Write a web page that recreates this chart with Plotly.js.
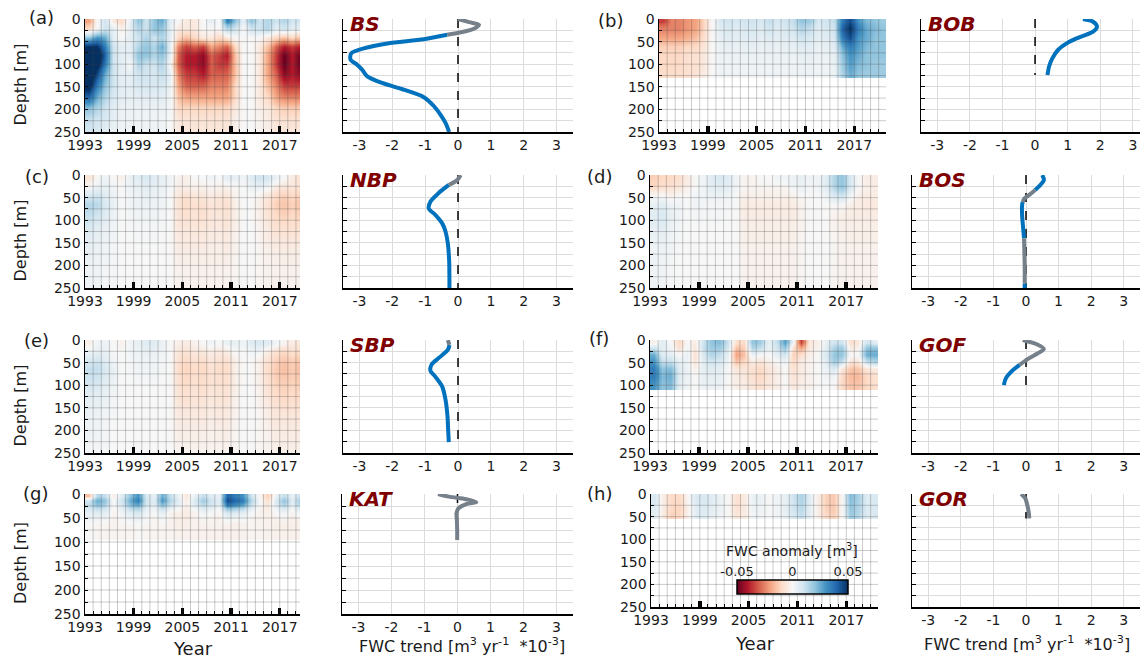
<!DOCTYPE html>
<html><head><meta charset="utf-8">
<script src="https://cdn.plot.ly/plotly-3.0.1.min.js"></script>
<style>html,body{margin:0;padding:0;background:#fff}#chart{width:1140px;height:658px}</style>
</head><body><div id="chart"></div>
<script>
// ---------------- DATA ----------------
const yearEdges = [1993,1994,1995,1996,1997,1998,1999,2000,2001,2002,2003,2004,2005,2006,2007,2008,2009,2010,2011,2012,2013,2014,2015,2016,2017,2018,2019,2020,2021];
const yearTicks = [1993,1999,2005,2011,2017];
const depthTicks = [0,50,100,150,200,250];
const trendTicks = [-3,-2,-1,0,1,2,3];
const trendTickText = ['-3','-2','-1','0','1','2','3'];
const cbTicks = [-0.05,0,0.05];
const cbTickText = ['-0.05','0','0.05'];
const regionNames = ['BS','BOB','NBP','BOS','SBP','GOF','KAT','GOR'];
const panelLetters = ['(a)','(b)','(c)','(d)','(e)','(f)','(g)','(h)'];

// FWC anomaly [m3], rows = depth bins (edges below), columns = years 1993..2020
const bsEdges = [0,10,30,50,70,90,110,135,160,185,210,230,250];
const bsZ = [
 [-.02,0,.01,-.005,-.01,.005,.02,.01,.02,.025,.005,0,-.005,-.005,0,.005,0,.035,.02,.005,.02,.01,.015,.01,.015,.01,.01,.01],
 [-.01,0,.01,.005,-.003,.005,.015,.01,.02,.02,.005,-.005,-.005,-.005,0,0,0,.015,.01,0,.01,.01,.015,.005,.01,.005,.005,.005],
 [.02,.03,.025,.005,0,.005,.01,.015,.01,.015,.005,-.01,-.015,-.01,-.005,-.005,-.01,-.005,0,0,0,0,-.005,-.01,-.015,-.01,-.015,-.015],
 [.05,.05,.035,.01,.005,.005,.015,.02,.015,.025,.005,-.025,-.035,-.03,-.035,-.02,-.025,-.03,-.01,0,0,-.005,-.015,-.03,-.04,-.035,-.04,-.04],
 [.06,.06,.04,.01,.005,.005,.02,.02,.015,.02,.005,-.03,-.04,-.04,-.045,-.03,-.035,-.04,-.015,0,0,-.005,-.02,-.035,-.05,-.04,-.05,-.05],
 [.06,.055,.035,.01,.005,0,.015,.01,.01,.015,0,-.03,-.04,-.04,-.045,-.03,-.035,-.035,-.015,0,0,-.005,-.02,-.035,-.05,-.04,-.05,-.05],
 [.06,.045,.025,.01,.005,.005,.01,.01,.008,.012,.005,-.025,-.035,-.035,-.04,-.03,-.03,-.03,-.015,0,0,-.005,-.02,-.03,-.045,-.04,-.045,-.045],
 [.055,.035,.02,.01,.005,.005,.008,.008,.008,.008,.003,-.02,-.03,-.03,-.03,-.025,-.025,-.025,-.01,0,0,-.005,-.015,-.025,-.035,-.035,-.035,-.035],
 [.04,.025,.015,.008,.005,.004,.005,.005,.005,.005,.002,-.015,-.02,-.02,-.02,-.02,-.02,-.02,-.01,0,0,-.005,-.01,-.02,-.025,-.025,-.025,-.025],
 [.02,.015,.01,.005,.003,.003,.003,.003,.003,.003,.001,-.01,-.01,-.01,-.01,-.01,-.01,-.01,-.005,0,0,-.003,-.005,-.01,-.012,-.012,-.012,-.012],
 [.012,.01,.008,.005,.003,.002,.002,.002,.002,.002,0,-.006,-.007,-.007,-.007,-.007,-.007,-.007,-.003,0,0,-.002,-.004,-.007,-.008,-.008,-.008,-.008],
 [.01,.008,.006,.004,.002,.002,.002,.002,.002,.002,0,-.005,-.006,-.006,-.006,-.006,-.006,-.006,-.003,0,0,-.002,-.003,-.006,-.006,-.006,-.006,-.006]
];
const bobEdges = [0,10,30,50,70,90,110,130];
const bobZ = [
 [-.035,-.025,-.025,-.022,-.02,-.01,0,.008,.01,.008,.01,.01,.008,.012,.008,.01,.012,.02,.018,.008,.01,.012,.035,.045,.03,.022,.02,.018],
 [-.025,-.025,-.025,-.022,-.02,-.01,0,.006,.008,.006,.008,.008,.006,.01,.006,.008,.01,.015,.012,.006,.008,.01,.04,.05,.035,.025,.022,.02],
 [-.02,-.02,-.02,-.018,-.015,-.008,0,.004,.006,.005,.006,.006,.005,.006,.005,.006,.006,.01,.008,.005,.006,.008,.035,.045,.03,.025,.02,.02],
 [-.012,-.012,-.012,-.01,-.01,-.006,0,.003,.004,.003,.004,.004,.003,.004,.003,.004,.004,.006,.005,.003,.004,.006,.025,.035,.028,.022,.02,.02],
 [-.01,-.01,-.01,-.008,-.008,-.005,0,.003,.003,.003,.003,.003,.003,.003,.003,.003,.003,.004,.004,.003,.003,.004,.02,.03,.025,.02,.02,.02],
 [-.01,-.01,-.01,-.008,-.008,-.005,0,.002,.002,.002,.002,.002,.002,.002,.002,.002,.002,.003,.003,.002,.002,.003,.018,.028,.022,.02,.018,.018],
 [-.009,-.009,-.009,-.008,-.007,-.004,0,.002,.002,.002,.002,.002,.002,.002,.002,.002,.002,.003,.003,.002,.002,.003,.016,.025,.02,.018,.018,.018]
];
const nbpEdges = [0,15,35,55,75,100,125,150,175,200,225,250];
const nbpZ = [
 [-.006,0,.003,0,-.003,.004,.006,.008,.006,.004,.002,-.002,-.003,0,0,.002,0,.005,.004,.002,.006,.01,.008,.003,0,-.004,-.008,-.008],
 [0,.003,.004,.002,0,.003,.004,.005,.004,.003,.001,-.003,-.003,-.002,-.002,-.001,-.002,-.002,0,0,.003,.004,.002,-.004,-.006,-.006,-.007,-.007],
 [.008,.01,.006,.003,0,.002,.003,.004,.003,.002,0,-.006,-.008,-.006,-.006,-.004,-.006,-.006,-.002,0,0,-.002,-.006,-.01,-.012,-.01,-.012,-.012],
 [.015,.014,.008,.004,0,.002,.003,.003,.003,.002,0,-.007,-.009,-.008,-.008,-.006,-.007,-.008,-.003,0,0,-.003,-.008,-.012,-.014,-.012,-.014,-.014],
 [.012,.01,.006,.003,0,.001,.002,.002,.002,.001,0,-.007,-.008,-.007,-.008,-.006,-.006,-.007,-.003,0,0,-.003,-.007,-.01,-.012,-.01,-.012,-.012],
 [.008,.006,.004,.002,0,.001,.001,.001,.001,.001,0,-.006,-.006,-.006,-.006,-.005,-.005,-.006,-.003,0,0,-.002,-.005,-.008,-.008,-.008,-.008,-.008],
 [.005,.004,.003,.002,0,0,.001,.001,.001,0,0,-.005,-.005,-.005,-.005,-.004,-.004,-.005,-.002,0,0,-.002,-.004,-.006,-.006,-.006,-.006,-.006],
 [.004,.003,.002,.001,0,0,0,0,0,0,0,-.004,-.004,-.004,-.004,-.003,-.003,-.004,-.002,0,0,-.001,-.003,-.004,-.004,-.004,-.004,-.004],
 [.003,.002,.002,.001,0,0,0,0,0,0,0,-.003,-.003,-.003,-.003,-.003,-.003,-.003,-.001,0,0,-.001,-.002,-.003,-.003,-.003,-.003,-.003],
 [.002,.002,.001,.001,0,0,0,0,0,0,0,-.002,-.002,-.002,-.002,-.002,-.002,-.002,-.001,0,0,-.001,-.002,-.002,-.002,-.002,-.002,-.002],
 [.002,.002,.001,.001,0,0,0,0,0,0,0,-.002,-.002,-.002,-.002,-.002,-.002,-.002,-.001,0,0,-.001,-.002,-.002,-.002,-.002,-.002,-.002]
];
const bosEdges = [0,15,35,55,75,100,125,150,175,200,225,250];
const bosZ = [
 [-.012,-.01,-.01,-.008,-.004,0,.002,.006,.008,.006,.002,-.002,-.002,0,0,.002,.002,.003,.004,.002,.002,.006,.015,.02,.008,0,-.004,-.004],
 [-.01,-.008,-.008,-.006,-.003,0,.002,.005,.006,.005,.002,-.001,-.001,-.001,-.001,-.001,-.001,.002,.003,.001,.002,.006,.015,.02,.008,0,-.003,-.003],
 [0,0,-.002,0,0,.002,.002,.003,.003,.002,0,-.003,-.003,-.002,-.003,-.002,-.003,-.002,0,0,0,.002,.008,.01,.002,-.003,-.004,-.004],
 [.004,.006,.003,.002,0,.002,.001,.001,.001,.001,0,-.004,-.004,-.004,-.004,-.004,-.004,-.004,-.002,0,0,0,0,0,-.003,-.004,-.005,-.005],
 [.006,.008,.004,.002,0,.001,.001,.001,.001,0,0,-.004,-.004,-.004,-.004,-.004,-.004,-.004,-.002,0,0,0,-.002,-.003,-.004,-.004,-.004,-.004],
 [.005,.006,.003,.001,0,0,0,0,0,0,0,-.003,-.003,-.003,-.003,-.003,-.003,-.003,-.002,0,0,0,-.002,-.003,-.003,-.003,-.003,-.003],
 [.003,.004,.002,.001,0,0,0,0,0,0,0,-.003,-.003,-.003,-.003,-.003,-.003,-.003,-.001,0,0,0,-.001,-.002,-.003,-.003,-.003,-.003],
 [.002,.003,.002,0,0,0,0,0,0,0,0,-.002,-.002,-.002,-.002,-.002,-.002,-.002,-.001,0,0,0,-.001,-.002,-.002,-.002,-.002,-.002],
 [.002,.002,.001,0,0,0,0,0,0,0,0,-.002,-.002,-.002,-.002,-.002,-.002,-.002,-.001,0,0,0,-.001,-.002,-.002,-.002,-.002,-.002],
 [.002,.002,.001,0,0,0,0,0,0,0,0,-.002,-.002,-.002,-.002,-.002,-.002,-.002,-.001,0,0,0,-.001,-.002,-.002,-.002,-.002,-.002],
 [.002,.002,.001,0,0,0,0,0,0,0,0,-.002,-.002,-.002,-.002,-.002,-.002,-.002,-.001,0,0,0,-.001,-.002,-.002,-.002,-.002,-.002]
];
const sbpEdges = [0,15,35,55,75,100,125,150,175,200,225,250];
const sbpZ = [
 [-.003,.002,.003,0,-.002,.002,.004,.006,.006,.003,0,-.003,-.004,-.002,0,.002,0,.004,.004,.002,.006,.008,.006,.002,-.002,-.004,-.006,-.006],
 [.002,.004,.004,0,0,.002,.003,.004,.004,.002,0,-.006,-.007,-.005,-.005,-.003,-.005,-.004,0,0,.002,.002,-.004,-.008,-.01,-.008,-.01,-.01],
 [.008,.01,.006,.002,0,.001,.002,.002,.002,.001,0,-.008,-.01,-.008,-.009,-.006,-.008,-.008,-.003,0,0,-.003,-.008,-.012,-.014,-.012,-.014,-.014],
 [.012,.012,.008,.004,0,.001,.002,.002,.002,.001,0,-.009,-.011,-.009,-.01,-.007,-.009,-.009,-.003,0,0,-.003,-.009,-.013,-.015,-.013,-.015,-.015],
 [.01,.01,.006,.003,0,0,.001,.001,.001,0,0,-.008,-.01,-.008,-.009,-.007,-.008,-.008,-.003,0,0,-.003,-.008,-.012,-.013,-.012,-.013,-.013],
 [.006,.006,.004,.002,0,0,0,0,0,0,0,-.007,-.008,-.007,-.008,-.006,-.007,-.007,-.003,0,0,-.002,-.007,-.01,-.011,-.01,-.011,-.011],
 [.004,.004,.003,.001,0,0,0,0,0,0,0,-.006,-.007,-.006,-.006,-.005,-.006,-.006,-.002,0,0,-.002,-.005,-.008,-.009,-.008,-.009,-.009],
 [.003,.003,.002,.001,0,0,0,0,0,0,0,-.005,-.005,-.005,-.005,-.004,-.005,-.005,-.002,0,0,-.001,-.004,-.006,-.006,-.006,-.006,-.006],
 [.002,.002,.001,0,0,0,0,0,0,0,0,-.004,-.004,-.004,-.004,-.003,-.004,-.004,-.001,0,0,-.001,-.003,-.005,-.005,-.005,-.005,-.005],
 [.002,.002,.001,0,0,0,0,0,0,0,0,-.003,-.003,-.003,-.003,-.002,-.003,-.003,-.001,0,0,-.001,-.002,-.004,-.004,-.004,-.004,-.004],
 [.001,.001,.001,0,0,0,0,0,0,0,0,-.002,-.002,-.002,-.002,-.002,-.002,-.002,-.001,0,0,-.001,-.002,-.003,-.003,-.003,-.003,-.003]
];
const gofEdges = [0,10,25,40,55,70,90,110];
const gofZ = [
 [-.003,.006,0,-.01,0,-.004,.01,.02,.022,.01,-.008,-.01,.02,.018,.004,.012,.028,.002,-.035,-.006,-.003,.004,.01,.01,-.008,-.006,.01,.005],
 [.01,.005,.002,-.008,.002,-.006,.012,.018,.018,.008,-.015,-.012,.015,.012,.003,.01,.02,-.008,-.02,-.005,-.002,.006,.016,.018,-.004,-.002,.02,.02],
 [.025,.006,.005,0,.004,-.008,.008,.015,.012,.004,-.02,-.015,.004,0,0,.005,.01,-.012,-.008,-.003,0,.008,.02,.02,0,0,.025,.025],
 [.03,.012,.012,.004,.003,-.006,.006,.01,.008,.002,-.015,-.01,-.004,-.006,-.003,0,.003,-.01,-.004,-.002,0,.006,.018,.012,-.006,-.006,.012,.015],
 [.035,.02,.022,.006,.003,-.003,.005,.006,.005,0,-.006,-.006,-.008,-.01,-.006,-.003,0,-.008,-.004,-.002,0,.003,.008,-.006,-.014,-.014,-.006,-.004],
 [.035,.022,.025,.006,.003,0,.004,.005,.004,0,-.004,-.005,-.008,-.01,-.006,-.003,0,-.007,-.004,-.002,0,.002,.002,-.01,-.016,-.016,-.01,-.008],
 [.03,.02,.022,.005,.002,0,.003,.003,.003,0,-.003,-.004,-.006,-.008,-.005,-.003,0,-.005,-.003,-.002,0,0,0,-.01,-.014,-.014,-.01,-.008]
];
const katEdges = [0,8,18,30,50,75,95];
const katZ = [
 [-.015,.015,.012,-.004,.006,.02,.03,.008,.004,.025,.012,.004,-.006,.004,.012,.006,.004,.04,.035,.03,.01,0,-.012,.004,.012,.004,.012,.012],
 [.01,.025,.02,0,.01,.025,.035,.01,.006,.03,.015,.006,-.004,.008,.018,.01,.006,.045,.04,.035,.015,.002,-.008,.008,.02,.006,.018,.018],
 [.012,.02,.015,0,.008,.02,.025,.008,.005,.02,.01,.004,-.003,.006,.012,.008,.004,.035,.03,.025,.01,0,-.005,.006,.015,.004,.015,.015],
 [.004,.006,.005,-.002,.002,.006,.008,.002,0,.004,-.002,-.003,-.004,-.002,.002,0,-.002,.008,.006,.004,0,-.002,-.003,0,.002,-.002,.002,.002],
 [0,-.001,-.001,-.002,-.001,-.001,0,-.001,-.001,-.001,-.002,-.003,-.003,-.002,-.002,-.002,-.002,-.002,-.003,-.002,-.001,-.002,-.002,-.003,-.003,-.003,-.003,-.003],
 [0,-.001,-.001,-.001,-.001,-.001,0,-.001,-.001,-.001,-.001,-.002,-.002,-.002,-.002,-.002,-.002,-.002,-.002,-.002,-.001,-.001,-.002,-.002,-.002,-.002,-.002,-.002]
];
const gorEdges = [0,20,40,55];
const gorZ = [
 [.008,-.004,-.01,-.01,0,.008,.008,.006,.003,0,-.008,-.004,.004,.003,0,.002,.004,.01,.016,.005,-.004,-.012,-.013,0,.022,.016,.006,.008],
 [.006,-.004,-.01,-.011,-.002,.006,.007,.005,.003,0,-.008,-.004,.003,.002,0,.002,.004,.01,.014,.004,-.004,-.012,-.013,0,.02,.015,.006,.008],
 [.005,-.005,-.012,-.01,-.002,.006,.006,.004,.002,0,-.006,-.004,.002,.002,0,.002,.004,.008,.012,.004,-.003,-.01,-.012,0,.018,.014,.006,.008]
];

// FWC trend profiles [m3 yr-1 *1e-3]; sig: 1 = blue (significant), 0 = grey
const bsDepth = [0,7,13,19,24,30,35,45,54,65,76,90,101,112,127,140,154,173,193,212,230,250];
const bsTrend = [0.0,0.34,0.64,0.55,0.39,0.05,-0.33,-1.04,-2.15,-2.87,-3.25,-3.27,-3.07,-2.92,-2.76,-2.36,-1.75,-1.04,-0.73,-0.53,-0.38,-0.27];
const bsSig   = [0,0,0,0,0,0,0,1,1,1,1,1,1,1,1,1,1,1,1,1,1,1];
const bobDepth = [0,6,17,28,43,54,68,87,105,124];
const bobTrend = [1.47,1.78,1.90,1.78,1.27,0.97,0.71,0.53,0.43,0.38];
const bobSig   = [1,1,1,1,1,1,1,1,1,1];
const nbpDepth = [0,11,22,40,59,74,88,107,125,151,188,250];
const nbpTrend = [0.08,-0.02,-0.28,-0.59,-0.84,-0.89,-0.69,-0.48,-0.38,-0.31,-0.27,-0.26];
const nbpSig   = [0,0,0,1,1,1,1,1,1,1,1,1];
const bosDepth = [0,11,22,33,45,52,60,67,89,115,140,170,200,240,250];
const bosTrend = [0.50,0.55,0.44,0.28,0.08,-0.05,-0.10,-0.12,-0.12,-0.09,-0.06,-0.05,-0.04,-0.04,-0.04];
const bosSig   = [1,1,1,0,0,0,0,1,1,1,0,0,0,0,1];
const sbpDepth = [0,11,22,40,55,68,81,103,132,169,199,226];
const sbpTrend = [-0.31,-0.26,-0.31,-0.59,-0.81,-0.84,-0.69,-0.48,-0.38,-0.32,-0.30,-0.28];
const sbpSig   = [0,0,1,1,1,1,1,1,1,1,1,1];
const gofDepth = [0,10,20,30,40,55,70,85,100];
const gofTrend = [-0.10,0.35,0.55,0.35,0.10,-0.20,-0.45,-0.62,-0.68];
const gofSig   = [0,0,0,0,0,0,1,1,1];
const katDepth = [0,5.5,11,17,21,30,40,54,75,96];
const katTrend = [-0.59,-0.26,0.26,0.57,0.26,0.03,-0.03,-0.02,-0.01,-0.01];
const katSig   = [0,0,0,0,0,0,0,0,0,0];
const gorDepth = [0,10,28,43,54];
const gorTrend = [-0.15,-0.02,0.05,0.09,0.10];
const gorSig   = [0,0,0,0,0];

// ---------------- LAYOUT (pixel boxes) ----------------
const W = 1140, H = 658;
const FONT = 'DejaVu Sans, Liberation Sans, sans-serif';
const rdbu = [[0,'#67001f'],[0.1,'#b2182b'],[0.2,'#d6604d'],[0.3,'#f4a582'],[0.4,'#fddbc7'],[0.5,'#f7f7f7'],[0.6,'#d1e5f0'],[0.7,'#92c5de'],[0.8,'#4393c3'],[0.9,'#2166ac'],[1,'#053061']];
const BLUE = 'rgb(0,114,189)', GREY = 'rgb(118,128,138)';

const panels = [
 {edges:bsEdges,  z:bsZ,  d:bsDepth,  t:bsTrend,  s:bsSig,  hx:[85,300],  hr:[1993,2019.5], px:[343,573],  pr:[-3.5,3.5],  row:[19,132],  lab:[42,18]},
 {edges:bobEdges, z:bobZ, d:bobDepth, t:bobTrend, s:bobSig, hx:[659,886], hr:[1993,2020.9], px:[921,1140], pr:[-3.5,3.22], row:[19,132],  lab:[610,21]},
 {edges:nbpEdges, z:nbpZ, d:nbpDepth, t:nbpTrend, s:nbpSig, hx:[85,300],  hr:[1993,2019.5], px:[343,573],  pr:[-3.5,3.5],  row:[175,288], lab:[37,176]},
 {edges:bosEdges, z:bosZ, d:bosDepth, t:bosTrend, s:bosSig, hx:[650,878], hr:[1993,2020.9], px:[912,1140], pr:[-3.5,3.5],  row:[175,288], lab:[599,176]},
 {edges:sbpEdges, z:sbpZ, d:sbpDepth, t:sbpTrend, s:sbpSig, hx:[85,300],  hr:[1993,2019.5], px:[343,573],  pr:[-3.5,3.5],  row:[340,453], lab:[37,340]},
 {edges:gofEdges, z:gofZ, d:gofDepth, t:gofTrend, s:gofSig, hx:[650,878], hr:[1993,2020.9], px:[912,1140], pr:[-3.5,3.5],  row:[340,453], lab:[599,338]},
 {edges:katEdges, z:katZ, d:katDepth, t:katTrend, s:katSig, hx:[85,300],  hr:[1993,2019.5], px:[342,573],  pr:[-3.5,3.5],  row:[494,614], lab:[35,493]},
 {edges:gorEdges, z:gorZ, d:gorDepth, t:gorTrend, s:gorSig, hx:[651,878], hr:[1993,2020.9], px:[912,1140], pr:[-3.5,3.5],  row:[494,607], lab:[599,493]}
];

const fx = v => v / W;
const fy = v => 1 - v / H;

const traces = [], shapes = [], annotations = [];
const layout = {
  width: W, height: H, margin: {l:0, r:0, t:0, b:0},
  paper_bgcolor: '#fff', plot_bgcolor: 'rgba(0,0,0,0)',
  showlegend: false, font: {family: FONT, color: '#1a1a1a', size: 14}
};

panels.forEach((p, i) => {
  const hn = 2*i + 1, pn = 2*i + 2;
  const hX = 'x' + hn, hY = 'y' + hn, pX = 'x' + pn, pY = 'y' + pn;
  const yDom = [fy(p.row[1]), fy(p.row[0])];
  layout['xaxis' + hn] = {
    domain: [fx(p.hx[0]), fx(p.hx[1])], anchor: hY, range: p.hr,
    tickvals: yearTicks, ticks: 'inside', ticklen: 6, tickwidth: 3.5, tickcolor: '#000',
    minor: {dtick: 1, tick0: 1993, ticks: 'inside', ticklen: 3, tickwidth: 1, tickcolor: '#000', showgrid: false},
    showgrid: false, zeroline: false, showline: true, linecolor: '#000', linewidth: 1.5,
    layer: 'above traces', tickfont: {size: 14}, fixedrange: true
  };
  layout['yaxis' + hn] = {
    domain: yDom, anchor: hX, range: [250, 0],
    tickvals: depthTicks, ticks: 'inside', ticklen: 3, tickwidth: 1, tickcolor: '#000',
    minor: {dtick: 25, tick0: 0, ticks: 'inside', ticklen: 3, tickwidth: 1, tickcolor: '#000', showgrid: false},
    showgrid: false, zeroline: false, showline: true, linecolor: '#000', linewidth: 1.5,
    layer: 'above traces', tickfont: {size: 14}, fixedrange: true
  };
  traces.push({
    type: 'heatmap', x: yearEdges, y: p.edges, z: p.z, xaxis: hX, yaxis: hY,
    zmin: -0.05, zmax: 0.05, colorscale: rdbu, zsmooth: 'best', hoverinfo: 'skip',
    showscale: i === 7,
    colorbar: {
      orientation: 'h', x: fx(737), xanchor: 'left', y: fy(580), yanchor: 'top',
      len: 111, lenmode: 'pixels', thickness: 14, thicknessmode: 'pixels',
      outlinewidth: 1.5, outlinecolor: '#000', xpad: 0, ypad: 0,
      ticks: '', showticklabels: false
    }
  });
  for (let yr = 1994; yr < p.hr[1]; yr++) {
    shapes.push({type: 'line', xref: hX, yref: hY + ' domain', x0: yr, x1: yr, y0: 0, y1: 1,
      line: {color: 'rgba(70,70,70,0.28)', width: 1}, layer: 'above'});
  }
  for (let dd = 25; dd < 250; dd += 25) {
    shapes.push({type: 'line', xref: hX + ' domain', yref: hY, x0: 0, x1: 1, y0: dd, y1: dd,
      line: {color: 'rgba(70,70,70,0.28)', width: 1}, layer: 'above'});
  }
  layout['xaxis' + pn] = {
    domain: [fx(p.px[0]), fx(p.px[1])], anchor: pY, range: p.pr,
    tickvals: trendTicks, ticktext: trendTickText, ticks: '',
    showgrid: true, gridcolor: '#dcdcdc', gridwidth: 1, zeroline: false,
    showline: true, linecolor: '#000', linewidth: 1.5, tickfont: {size: 14}, fixedrange: true
  };
  layout['yaxis' + pn] = {
    domain: yDom, anchor: pX, range: [250, 0], dtick: 25, tick0: 0,
    showticklabels: false, ticks: 'inside', ticklen: 4, tickcolor: '#000',
    showgrid: true, gridcolor: '#dcdcdc', gridwidth: 1, zeroline: false,
    showline: true, linecolor: '#000', linewidth: 1.5, fixedrange: true
  };
  const maxD = p.d[p.d.length - 1];
  traces.push({type: 'scatter', mode: 'lines', x: [0, 0], y: [0, maxD], xaxis: pX, yaxis: pY,
    line: {color: '#000', width: 1.5, dash: 'dash'}, hoverinfo: 'skip'});
  const n = p.d.length;
  const blueX = [], blueY = [], greyX = [], greyY = [];
  for (let k = 0; k < n; k++) {
    const isBlue = p.s[k] === 1 || (k > 0 && p.s[k-1] === 1) || (k < n-1 && p.s[k+1] === 1);
    blueX.push(isBlue ? p.t[k] : null); blueY.push(isBlue ? p.d[k] : null);
    const isGrey = p.s[k] === 0;
    greyX.push(isGrey ? p.t[k] : null); greyY.push(isGrey ? p.d[k] : null);
  }
  traces.push({type: 'scatter', mode: 'lines', x: blueX, y: blueY, xaxis: pX, yaxis: pY,
    line: {color: BLUE, width: 4, shape: 'spline', smoothing: 0.8}, hoverinfo: 'skip'});
  traces.push({type: 'scatter', mode: 'lines', x: greyX, y: greyY, xaxis: pX, yaxis: pY,
    line: {color: GREY, width: 4, shape: 'spline', smoothing: 0.8}, hoverinfo: 'skip'});
  annotations.push({text: panelLetters[i], xref: 'paper', yref: 'paper', x: fx(p.lab[0]), y: fy(p.lab[1]),
    xanchor: 'center', yanchor: 'middle', showarrow: false, font: {size: 18, color: '#1a1a1a'}});
  annotations.push({text: '<b><i>' + regionNames[i] + '</i></b>', xref: 'paper', yref: 'paper',
    x: fx(p.px[0] + 5), y: fy(p.row[0] + 5), xanchor: 'left', yanchor: 'middle', showarrow: false,
    font: {size: 20, color: '#7f0000'}});
  if (i % 2 === 0) {
    annotations.push({text: 'Depth [m]', xref: 'paper', yref: 'paper', x: fx(20),
      y: fy((p.row[0] + p.row[1]) / 2 + 9), textangle: -90, xanchor: 'center', yanchor: 'middle',
      showarrow: false, font: {size: 16, color: '#1a1a1a'}});
  }
});

layout.xaxis17 = {domain: [fx(737), fx(848)], anchor: 'y17', side: 'top', range: [-0.05, 0.05],
  tickvals: cbTicks, ticktext: cbTickText, ticks: 'inside', ticklen: 4, tickcolor: '#000',
  showgrid: false, zeroline: false, showline: false, tickfont: {size: 13}, fixedrange: true};
layout.yaxis17 = {domain: [fy(594), fy(580)], anchor: 'x17', visible: false, range: [0, 1], fixedrange: true};
traces.push({type: 'scatter', mode: 'markers', x: [], y: [], xaxis: 'x17', yaxis: 'y17', hoverinfo: 'skip'});

annotations.push({text: 'FWC anomaly [m<sup>3</sup>]', xref: 'paper', yref: 'paper', x: fx(792), y: fy(550),
  xanchor: 'center', yanchor: 'middle', showarrow: false, font: {size: 14, color: '#1a1a1a'}});
annotations.push({text: 'Year', xref: 'paper', yref: 'paper', x: fx(193), y: fy(648),
  xanchor: 'center', yanchor: 'middle', showarrow: false, font: {size: 18, color: '#1a1a1a'}});
annotations.push({text: 'Year', xref: 'paper', yref: 'paper', x: fx(755), y: fy(643),
  xanchor: 'center', yanchor: 'middle', showarrow: false, font: {size: 18, color: '#1a1a1a'}});
const trendLabel = 'FWC trend [m<sup>3</sup> yr<sup>-1</sup> &nbsp;*10<sup>-3</sup>]';
annotations.push({text: trendLabel, xref: 'paper', yref: 'paper', x: fx(462), y: fy(645),
  xanchor: 'center', yanchor: 'middle', showarrow: false, font: {size: 16, color: '#1a1a1a'}});
annotations.push({text: trendLabel, xref: 'paper', yref: 'paper', x: fx(1027), y: fy(643),
  xanchor: 'center', yanchor: 'middle', showarrow: false, font: {size: 16, color: '#1a1a1a'}});

layout.shapes = shapes;
layout.annotations = annotations;

Plotly.newPlot('chart', traces, layout, {staticPlot: true, displayModeBar: false});
</script>
</body></html>
